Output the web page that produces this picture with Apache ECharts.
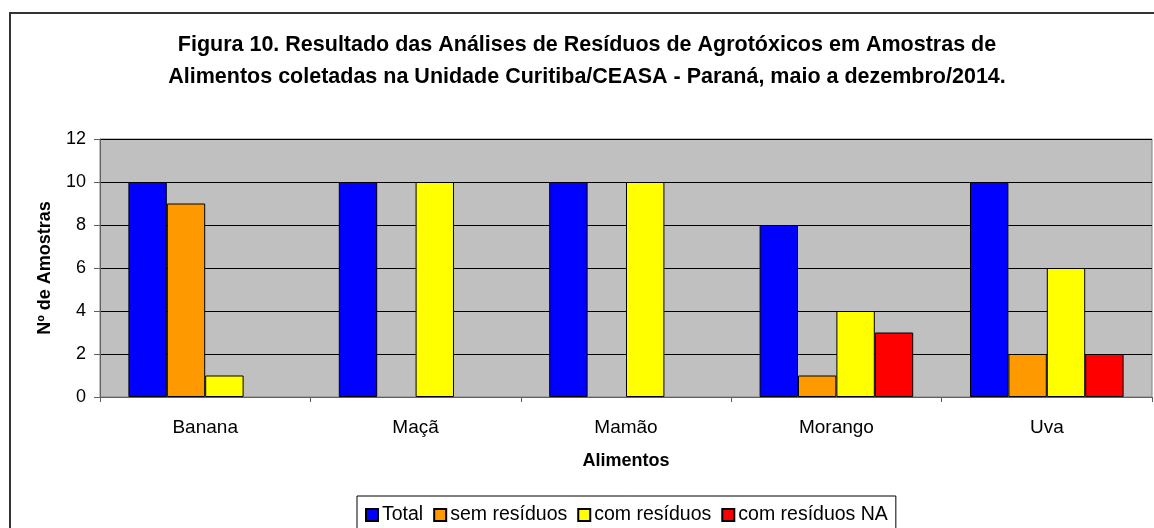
<!DOCTYPE html>
<html>
<head>
<meta charset="utf-8">
<script src="https://cdn.jsdelivr.net/npm/echarts@6/dist/echarts.min.js"></script>
<style>
  html, body { margin: 0; padding: 0; background: #fff; }
  #chart { width: 1154px; height: 528px; }
</style>
</head>
<body>
<div id="chart"></div>
<script>
// dados do gráfico
const categorias = ['Banana', 'Maçã', 'Mamão', 'Morango', 'Uva'];
const total = [10, 10, 10, 8, 10];
const semResiduos = [9, 0, 0, 1, 2];
const comResiduos = [1, 10, 10, 4, 6];
const comResiduosNA = [0, 0, 0, 3, 2];
const nomesSeries = ['Total', 'sem resíduos', 'com resíduos', 'com resíduos NA'];
const cores = ['#0000ff', '#ff9900', '#ffff00', '#ff0000'];

const fonte = '"Liberation Sans", Arial, sans-serif';

document.addEventListener('DOMContentLoaded', function() {
  const chart = echarts.init(document.getElementById('chart'));

  // cria as séries de barras (valor zero sem contorno, como no Excel)
  const valores = [total, semResiduos, comResiduos, comResiduosNA];
  const series = valores.map((v, i) => ({
    name: nomesSeries[i],
    type: 'bar',
    data: v.map(x => x === 0 ? { value: 0, itemStyle: { borderWidth: 0 } } : x),
    barGap: '0%',
    barCategoryGap: '27%',
    itemStyle: { color: cores[i], borderColor: '#000', borderWidth: 1 },
    emphasis: { disabled: true }
  }));

  const option = {
    animation: false,
    textStyle: { fontFamily: fonte },
    title: {
      text: 'Figura 10. Resultado das Análises de Resíduos de Agrotóxicos em Amostras de\nAlimentos coletadas na Unidade Curitiba/CEASA - Paraná, maio a dezembro/2014.',
      left: 587,
      top: 29,
      padding: 0,
      textAlign: 'center',
      textStyle: { fontFamily: fonte, fontSize: 21.5, fontWeight: 'bold', color: '#000', lineHeight: 32 }
    },
    // moldura externa
    graphic: [{
      type: 'rect',
      shape: { x: 10, y: 13, width: 1160, height: 540 },
      style: { fill: 'none', stroke: '#333', lineWidth: 2 },
      silent: true
    }],
    legend: {
      data: nomesSeries,
      top: 496,
      left: 357,
      width: 640,
      padding: [9, 8, 20, 8],
      borderColor: '#000',
      borderWidth: 1,
      icon: 'rect',
      itemWidth: 12,
      itemHeight: 12,
      itemGap: 10,
      textStyle: { fontFamily: fonte, fontSize: 19.5, color: '#000', padding: [0, 0, 0, -1] }
    },
    grid: {
      left: 100, top: 139, right: 2, bottom: 131,
      show: true,
      backgroundColor: '#c0c0c0',
      borderColor: '#808080',
      borderWidth: 1
    },
    xAxis: {
      type: 'category',
      data: categorias,
      name: 'Alimentos',
      nameLocation: 'middle',
      nameGap: 55,
      nameTextStyle: { fontFamily: fonte, fontSize: 18, fontWeight: 'bold', color: '#000' },
      axisLine: { lineStyle: { color: '#606060', width: 1 } },
      axisTick: { show: true, length: 5, lineStyle: { color: '#606060' } },
      axisLabel: { fontFamily: fonte, fontSize: 19, color: '#000', margin: 21 }
    },
    yAxis: {
      type: 'value',
      min: 0,
      max: 12,
      interval: 2,
      name: 'Nº de Amostras',
      nameLocation: 'middle',
      nameGap: 46,
      nameTextStyle: { fontFamily: fonte, fontSize: 18, fontWeight: 'bold', color: '#000' },
      axisLine: { show: true, lineStyle: { color: '#606060', width: 1 } },
      axisTick: { show: true, length: 6, lineStyle: { color: '#606060' } },
      axisLabel: { fontFamily: fonte, fontSize: 18, color: '#000', margin: 14 },
      splitLine: { lineStyle: { color: '#000', width: 1 } }
    },
    series: series
  };

  chart.setOption(option);
});
</script>
</body>
</html>
